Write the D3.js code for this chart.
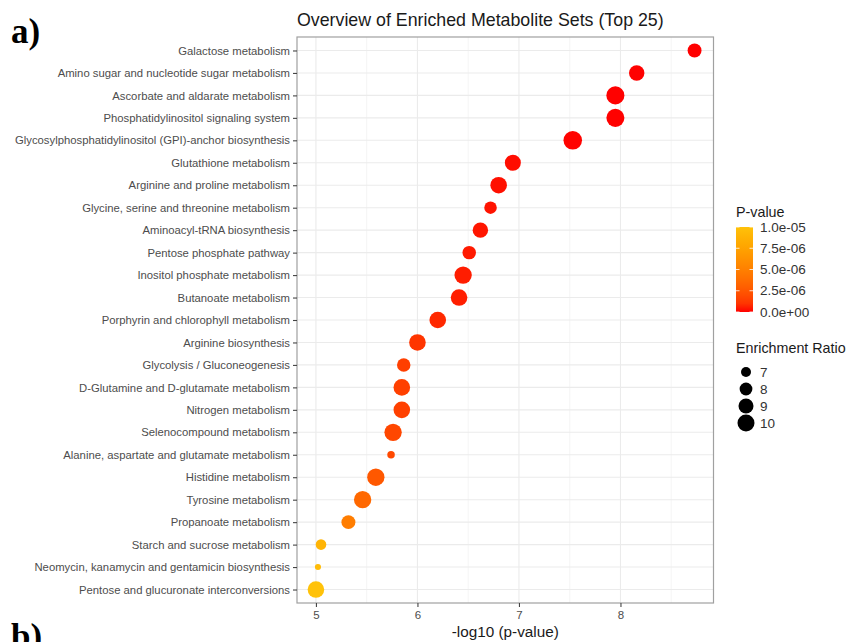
<!DOCTYPE html>
<html>
<head>
<meta charset="utf-8">
<script src="https://cdn.jsdelivr.net/npm/d3@7"></script>
<style>
  body { margin: 0; background: #fff; }
  svg { display: block; font-family: "Liberation Sans", Arial, sans-serif; }
</style>
</head>
<body>
<svg id="chart" width="850" height="642"></svg>
<script>
// metabolite sets, top to bottom
var sets = [
    "Galactose metabolism",
    "Amino sugar and nucleotide sugar metabolism",
    "Ascorbate and aldarate metabolism",
    "Phosphatidylinositol signaling system",
    "Glycosylphosphatidylinositol (GPI)-anchor biosynthesis",
    "Glutathione metabolism",
    "Arginine and proline metabolism",
    "Glycine, serine and threonine metabolism",
    "Aminoacyl-tRNA biosynthesis",
    "Pentose phosphate pathway",
    "Inositol phosphate metabolism",
    "Butanoate metabolism",
    "Porphyrin and chlorophyll metabolism",
    "Arginine biosynthesis",
    "Glycolysis / Gluconeogenesis",
    "D-Glutamine and D-glutamate metabolism",
    "Nitrogen metabolism",
    "Selenocompound metabolism",
    "Alanine, aspartate and glutamate metabolism",
    "Histidine metabolism",
    "Tyrosine metabolism",
    "Propanoate metabolism",
    "Starch and sucrose metabolism",
    "Neomycin, kanamycin and gentamicin biosynthesis",
    "Pentose and glucuronate interconversions"
];
// -log10 (p-value)
var logP = [8.73, 8.16, 7.95, 7.95, 7.53, 6.94, 6.80, 6.72, 6.62, 6.51, 6.45, 6.41, 6.20,
            6.00, 5.865, 5.846, 5.846, 5.76, 5.74, 5.59, 5.46, 5.32, 5.05, 5.02, 5.00];
// enrichment ratio
var ratio = [8.5, 9.2, 10.6, 10.6, 10.9, 9.5, 9.8, 7.9, 9.2, 8.3, 10.2, 9.8, 9.8,
             9.8, 8.3, 9.8, 9.8, 10.2, 6.3, 10.2, 10.2, 8.5, 7.2, 6.0, 9.8];

var xTicks = [5, 6, 7, 8];
var pBreaks = [0, 2.5e-6, 5e-6, 7.5e-6, 1e-5];
var ratioBreaks = [7, 8, 9, 10];

(function() {
    var data = sets.map(function(s, i) {
        return { name: s, lp: logP[i], p: Math.pow(10, -logP[i]), er: ratio[i] };
    });

    var svg = d3.select("#chart");
    var pL = 297, pR = 713.5, pT = 37, pB = 603;

    var ext = d3.extent(logP), pad = (ext[1] - ext[0]) * 0.05;
    var x = d3.scaleLinear().domain([ext[0] - pad, ext[1] + pad]).range([pL, pR]);
    var y = d3.scalePoint().domain(sets).range([pT, pB]).padding(0.6);
    var color = d3.scaleLinear().domain([0, 1e-5]).range(["#ff0000", "#ffc20a"])
        .interpolate(d3.interpolateLab).clamp(true);
    var area = d3.scaleLinear().domain([7, 10]).range([25, 72]);
    function rad(v) { return Math.sqrt(Math.max(area(v), 1)); }

    // panel grid
    var grid = svg.append("g");
    d3.range(4.5, 9, 0.5).forEach(function(v) {
        if (v < x.domain()[0] || v > x.domain()[1]) return;
        var major = Math.abs(v - Math.round(v)) < 1e-9;
        grid.append("line")
            .attr("x1", x(v)).attr("x2", x(v)).attr("y1", pT).attr("y2", pB)
            .attr("stroke", major ? "#ebebeb" : "#f3f3f3")
            .attr("stroke-width", major ? 1.1 : 0.8);
    });
    sets.forEach(function(s) {
        grid.append("line")
            .attr("x1", pL).attr("x2", pR).attr("y1", y(s)).attr("y2", y(s))
            .attr("stroke", "#ebebeb").attr("stroke-width", 1.1);
    });

    // points
    svg.append("g").selectAll("circle")
        .data(data)
        .join("circle")
        .attr("cx", function(d) { return x(d.lp); })
        .attr("cy", function(d) { return y(d.name); })
        .attr("r", function(d) { return rad(d.er); })
        .attr("fill", function(d) { return color(d.p); });

    svg.append("rect")
        .attr("x", pL).attr("y", pT)
        .attr("width", pR - pL).attr("height", pB - pT)
        .attr("fill", "none").attr("stroke", "#a0a0a0").attr("stroke-width", 1.2);

    // axes
    var yAxis = svg.append("g")
        .attr("transform", "translate(" + pL + ",0)")
        .call(d3.axisLeft(y).tickSize(4).tickPadding(3));
    var xAxis = svg.append("g")
        .attr("transform", "translate(0," + pB + ")")
        .call(d3.axisBottom(x).tickValues(xTicks).tickSize(4).tickPadding(4).tickFormat(d3.format("d")));
    [yAxis, xAxis].forEach(function(a) {
        a.select(".domain").remove();
        a.selectAll(".tick line").attr("stroke", "#444").attr("stroke-width", 1.1);
        a.selectAll(".tick text").attr("fill", "#4d4d4d").attr("font-size", 11.3)
            .attr("font-family", "'Liberation Sans', Arial, sans-serif");
    });
    xAxis.selectAll(".tick text").attr("font-size", 11.5);

    // titles
    svg.append("text").attr("x", pL).attr("y", 26)
        .attr("font-size", 17.8).attr("fill", "#1a1a1a")
        .text("Overview of Enriched Metabolite Sets (Top 25)");
    svg.append("text").attr("x", (pL + pR) / 2).attr("y", 637)
        .attr("text-anchor", "middle").attr("font-size", 15.3).attr("fill", "#1a1a1a")
        .text("-log10 (p-value)");

    // panel letters
    svg.append("text").attr("x", 11).attr("y", 43)
        .attr("font-family", "'Liberation Serif', 'Times New Roman', serif")
        .attr("font-weight", "bold").attr("font-size", 35).text("a)");
    svg.append("text").attr("x", 11).attr("y", 648)
        .attr("font-family", "'Liberation Serif', 'Times New Roman', serif")
        .attr("font-weight", "bold").attr("font-size", 35).text("b)");

    // colour legend
    var lg = svg.append("g");
    lg.append("text").attr("x", 736).attr("y", 217).attr("font-size", 14.3).attr("fill", "#1a1a1a").text("P-value");
    var cy = d3.scaleLinear().domain([0, 1e-5]).range([312, 227]);
    var grad = svg.append("defs").append("linearGradient").attr("id", "pgrad")
        .attr("x1", 0).attr("x2", 0).attr("y1", 1).attr("y2", 0);
    d3.range(0, 1.0001, 0.1).forEach(function(t) {
        grad.append("stop").attr("offset", t).attr("stop-color", color(t * 1e-5));
    });
    lg.append("rect").attr("x", 736).attr("y", 227).attr("width", 17).attr("height", 85)
        .attr("fill", "url(#pgrad)");
    pBreaks.forEach(function(b) {
        lg.append("line").attr("x1", 736).attr("x2", 739.5).attr("y1", cy(b)).attr("y2", cy(b))
            .attr("stroke", "#fff").attr("stroke-width", 0.8);
        lg.append("line").attr("x1", 749.5).attr("x2", 753).attr("y1", cy(b)).attr("y2", cy(b))
            .attr("stroke", "#fff").attr("stroke-width", 0.8);
        lg.append("text").attr("x", 760).attr("y", cy(b)).attr("dy", "0.35em")
            .attr("font-size", 13.5).attr("fill", "#333")
            .text(d3.format(".1e")(b).replace(/e([+-])(\d)$/, "e$10$2"));
    });

    // size legend
    lg.append("text").attr("x", 736).attr("y", 353).attr("font-size", 14.3).attr("fill", "#1a1a1a").text("Enrichment Ratio");
    var sy = d3.scalePoint().domain(ratioBreaks).range([372, 423]);
    ratioBreaks.forEach(function(b) {
        lg.append("circle").attr("cx", 746).attr("cy", sy(b)).attr("r", rad(b)).attr("fill", "#000");
        lg.append("text").attr("x", 760).attr("y", sy(b)).attr("dy", "0.35em")
            .attr("font-size", 13.5).attr("fill", "#333").text(b);
    });
})();
</script>
</body>
</html>
